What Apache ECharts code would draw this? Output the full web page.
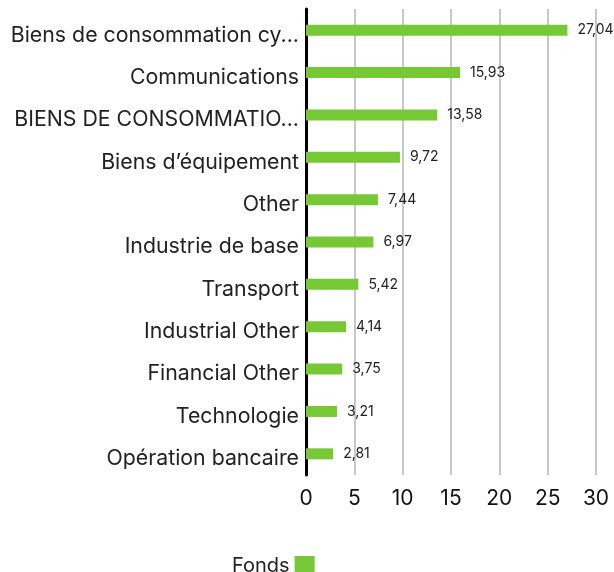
<!DOCTYPE html>
<html><head><meta charset="utf-8">
<script src="https://cdn.jsdelivr.net/npm/echarts@6/dist/echarts.min.js"></script>
<style>html,body{margin:0;padding:0;background:#fff}#c{width:614px;height:572px}</style>
</head><body><div id="c"></div>
<script>
var categories = ["Biens de consommation cy...","Communications","BIENS DE CONSOMMATIO...","Biens d’équipement","Other","Industrie de base","Transport","Industrial Other","Financial Other","Technologie","Opération bancaire"];
var fonds = [27.04,15.93,13.58,9.72,7.44,6.97,5.42,4.14,3.75,3.21,2.81];
var xTicks = [0,5,10,15,20,25,30];
var seriesName = "Fonds";

var chart = echarts.init(document.getElementById('c'));
chart.setOption({
  animation:false,
  textStyle:{fontFamily:"Inter"},
  grid:{left:306,right:18,top:9,height:466},
  legend:{data:[{name:seriesName,icon:'rect'}],left:227,top:551,itemWidth:20,itemHeight:20,align:'right',itemGap:10,
    textStyle:{fontSize:20,color:'#222',fontFamily:"Inter"}},
  xAxis:{type:'value',min:xTicks[0],max:xTicks[xTicks.length-1],interval:5,
    axisLine:{show:false},axisTick:{show:false},
    splitLine:{lineStyle:{color:'#c8c8c8',width:2}},
    axisLabel:{fontSize:21,color:'#111',margin:13,fontFamily:"Inter"}},
  yAxis:{type:'category',data:categories,inverse:true,
    axisLine:{lineStyle:{color:'#000',width:3}},axisTick:{show:false},
    axisLabel:{fontSize:21.3,color:'#222',margin:7,fontFamily:"Inter",verticalAlign:'top',lineHeight:10}},
  series:[{name:seriesName,type:'bar',data:fonds,barWidth:11,
    itemStyle:{color:'#76c935'},
    label:{show:true,position:'right',distance:10,fontSize:14,color:'#222',fontFamily:"Inter",
      formatter:function(p){return p.value.toFixed(2).replace('.',',');}}}]
});
</script></body></html>
